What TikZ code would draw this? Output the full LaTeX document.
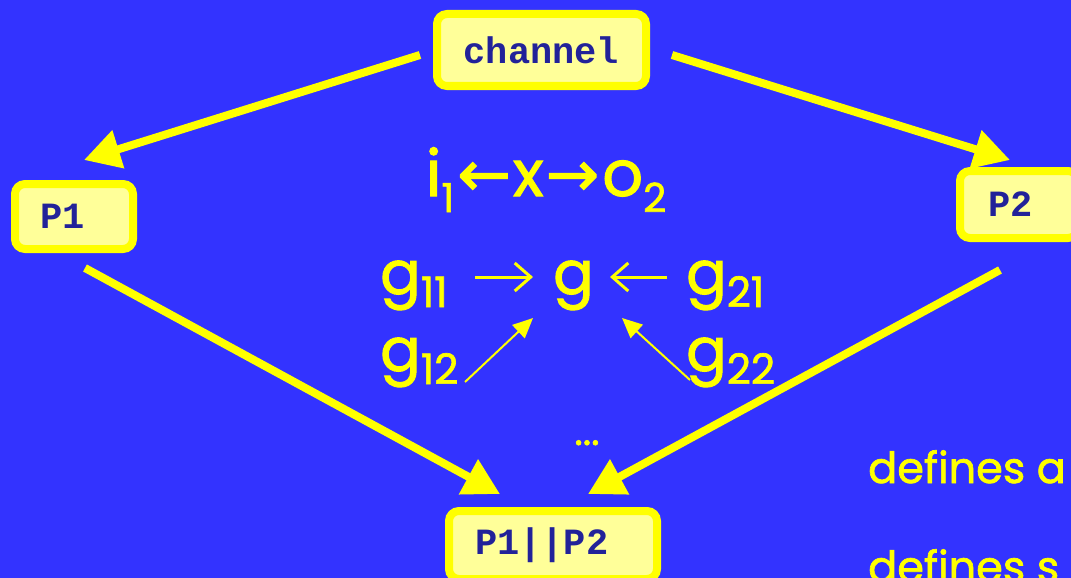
\documentclass[tikz,border=0pt]{standalone}
\usepackage{fontspec}
\setmainfont{Poppins}[FakeBold=1.6]
\newfontfamily\monofont{Liberation Mono}
\newfontfamily\symfont{DejaVu Sans}[FakeBold=1.6]
\usetikzlibrary{arrows.meta}
\definecolor{bg}{RGB}{51,51,255}
\definecolor{yel}{RGB}{255,255,0}
\definecolor{boxfill}{RGB}{255,255,153}
\definecolor{navy}{RGB}{34,34,153}
\newcommand{\subs}[1]{\raisebox{-13pt}{\fontsize{42}{42}\selectfont #1}}
\newcommand{\subtop}[1]{\raisebox{-16pt}{\fontsize{40}{40}\selectfont #1}}
\begin{document}
\begin{tikzpicture}[x=1pt,y=-1pt,
  procbox/.style={draw=yel, line width=8pt, fill=boxfill, rounded corners=10pt,
    font=\monofont\bfseries\fontsize{37}{40}\selectfont, text=navy, inner ysep=0pt},
  bigarrow/.style={draw=yel, line width=8pt, -{Triangle[length=36pt,width=38pt]}},
  thinarrow/.style={draw=yel, line width=2pt, -{Triangle[length=20pt,width=18pt]}},
  barbarrow/.style={draw=yel, line width=3pt, -{Straight Barb[length=16pt,width=28pt]}},
  mtext/.style={text=yel, font=\fontsize{60}{62}\selectfont, inner sep=0pt},
  deftext/.style={text=yel, font=\fontsize{43}{46}\selectfont, inner sep=0pt, anchor=base west},
]
\useasboundingbox (0,0) rectangle (1071,578);
\clip (0,0) rectangle (1071,578);
\fill[bg] (0,0) rectangle (1071,578);

% boxes
\node[procbox, minimum width=209pt, minimum height=72pt, inner xsep=0pt] (channel) at (541.5,50) {channel};
\node[procbox, text width=68pt, inner xsep=25pt, minimum height=65pt] (P1) at (74,216.5) {P1};
\node[procbox, text width=62pt, inner xsep=28pt, minimum height=67pt] (P2) at (1019,204.5) {P2};
\node[procbox, text width=156pt, inner xsep=26pt, minimum height=68pt] (P12) at (553,545) {P1||P2};

% big arrows
\coordinate (a1s) at (420,55);  \coordinate (a1e) at (84,160);
\coordinate (a2s) at (672,55);  \coordinate (a2e) at (1010,160);
\coordinate (a3s) at (85,268);  \coordinate (a3e) at (500,494);
\coordinate (a4s) at (1000,270); \coordinate (a4e) at (588,494);
\draw[bigarrow] (a1s) -- (a1e);
\draw[bigarrow] (a2s) -- (a2e);
\draw[bigarrow] (a3s) -- (a3e);
\draw[bigarrow] (a4s) -- (a4e);

% middle texts
\node[mtext, anchor=base, font=\fontsize{64}{66}\selectfont] (io) at (546,196) {i\subtop{1}\kern3pt{\symfont ←}\kern2pt x\kern2pt{\symfont →}\kern3pt o\subtop{2}};
\node[mtext, anchor=base west] (g11) at (380,294) {g\subs{11}};
\node[mtext, anchor=base west] (g) at (553,294) {g};
\node[mtext, anchor=base west] (g21) at (686,294) {g\subs{21}};
\node[mtext, anchor=base west] (g12) at (380,371) {g\subs{12}};
\node[mtext, anchor=base west] (g22) at (686,371) {g\subs{22}};

\draw[barbarrow] ([shift={(-78pt,17pt)}]g.base west) -- ([shift={(-20pt,17pt)}]g.base west);
\draw[barbarrow] ([shift={(-19pt,17pt)}]g21.base west) -- ([shift={(57pt,17pt)}]g.base west);
\draw[thinarrow] ([shift={(85pt,-11pt)}]g12.base west) -- ([shift={(-20pt,-24pt)}]g.base west);
\draw[thinarrow] ([shift={(4pt,-9pt)}]g22.base west) -- ([shift={(69pt,-24pt)}]g.base west);

\node[text=yel, font=\fontsize{40}{40}\selectfont, inner sep=0pt, anchor=base] (dots) at (587,445) {...};

\node[deftext] (def1) at (868,483) {defines a};
\node[deftext] (def2) at (868,582) {defines s};
\end{tikzpicture}
\end{document}
